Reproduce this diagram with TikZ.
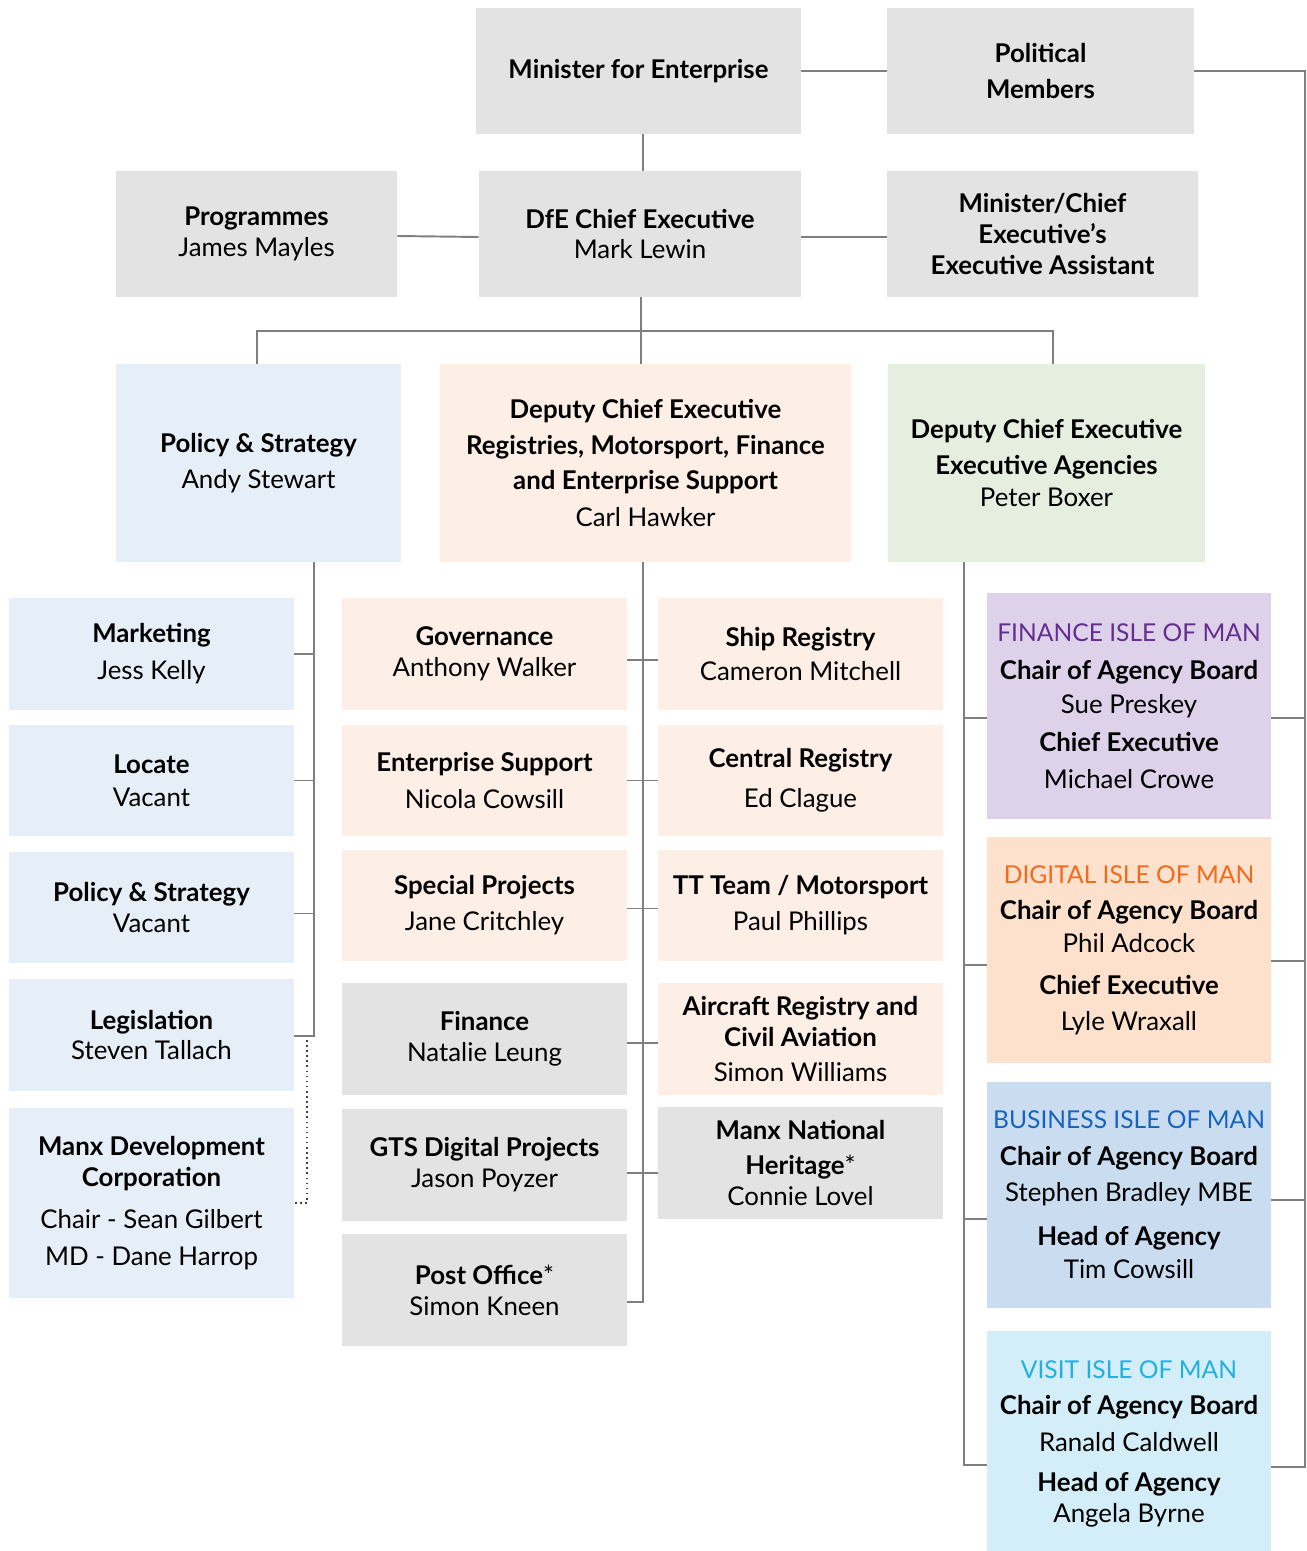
\documentclass[tikz,border=0pt]{standalone}
\usepackage{fontspec}
\setmainfont{Lato}
\usetikzlibrary{calc}
\definecolor{lineg}{HTML}{7F7F7F}
\definecolor{grayf}{HTML}{E3E3E3}
\definecolor{bluef}{HTML}{E6EEF8}
\definecolor{peachf}{HTML}{FDEFE6}
\definecolor{greenf}{HTML}{E6EEE0}
\definecolor{lavf}{HTML}{DDD2EA}
\definecolor{digf}{HTML}{FDE1CC}
\definecolor{busf}{HTML}{C9DCF0}
\definecolor{visf}{HTML}{D3EEF8}
\definecolor{fimc}{HTML}{662D91}
\definecolor{dimc}{HTML}{F26B1D}
\definecolor{bimc}{HTML}{1565C0}
\definecolor{vimc}{HTML}{22B0E0}
\newcommand{\agtitle}[2]{{\fontsize{14}{17.6}\selectfont\color{#1}#2}}
\begin{document}
\begin{tikzpicture}[x=0.02cm,y=-0.02cm,
  box/.style={rectangle, draw=none, inner sep=0pt, align=center,
    font=\fontsize{14.7}{17.6}\selectfont},
  sz/.style 2 args={minimum width=#1*0.02cm, minimum height=#2*0.02cm},
  conn/.style={draw=lineg, line width=1.1pt},
  dotconn/.style={draw=black!75, line width=0.9pt, dotted}]
\useasboundingbox (0,0) rectangle (1306,1551);

% top rows
\node[box, fill=grayf, sz={325}{126}] (Minister) at (638.5,71) {\textbf{Minister for Enterprise}};
\node[box, fill=grayf, sz={307}{126}] (Political) at (1040.5,71) {\textbf{Political}\\[2.8pt]\textbf{Members}};
\node[box, fill=grayf, sz={281}{126}] (Programmes) at (256.5,234) {\textbf{Programmes}\\James Mayles};
\node[box, fill=grayf, sz={322}{126}] (DfE) at (640,234) {\textbf{DfE Chief Executive}\\Mark Lewin};
\node[box, fill=grayf, sz={311}{126}] (EA) at (1042.5,234) {\textbf{Minister/Chief}\\\textbf{Executive's}\\\textbf{Executive Assistant}};

% deputies
\node[box, fill=bluef, sz={285}{198}] (PS) at (258.5,463) {\textbf{Policy \& Strategy}\\[2.8pt]Andy Stewart};
\node[box, fill=peachf, sz={411}{198}] (DCEa) at (645.5,463) {\textbf{Deputy Chief Executive}\\[2.8pt]\textbf{Registries, Motorsport, Finance}\\[2.8pt]\textbf{and Enterprise Support}\\[3.4pt]Carl Hawker};
\node[box, fill=greenf, sz={317}{198}] (DCEb) at (1046.5,463) {\textbf{Deputy Chief Executive}\\[2.8pt]\textbf{Executive Agencies}\\[1pt]Peter Boxer};

% left column
\node[box, fill=bluef, sz={285}{112}] (Marketing) at (151.5,654) {\textbf{Marketing}\\[3.4pt]Jess Kelly};
\node[box, fill=bluef, sz={285}{111}] (Locate) at (151.5,780.5) {\textbf{Locate}\\[1pt]Vacant};
\node[box, fill=bluef, sz={285}{111}] (PSV) at (151.5,907.5) {\textbf{Policy \& Strategy}\\Vacant};
\node[box, fill=bluef, sz={285}{112}] (Legislation) at (151.5,1035) {\textbf{Legislation}\\Steven Tallach};
\node[box, fill=bluef, sz={285}{190}] (MDC) at (151.5,1203) {\textbf{Manx Development}\\\textbf{Corporation}\\[6pt]Chair - Sean Gilbert\\[3.4pt]MD - Dane Harrop};

% middle column 1
\node[box, fill=peachf, sz={285}{112}] (Governance) at (484.5,654) {\textbf{Governance}\\Anthony Walker};
\node[box, fill=peachf, sz={285}{111}] (EntSupport) at (484.5,780.5) {\textbf{Enterprise Support}\\[4pt]Nicola Cowsill};
\node[box, fill=peachf, sz={285}{111}] (Special) at (484.5,905.5) {\textbf{Special Projects}\\[2.8pt]Jane Critchley};
\node[box, fill=grayf, sz={285}{112}] (Finance) at (484.5,1039) {\textbf{Finance}\\Natalie Leung};
\node[box, fill=grayf, sz={285}{112}] (GTS) at (484.5,1165) {\textbf{GTS Digital Projects}\\Jason Poyzer};
\node[box, fill=grayf, sz={285}{112}] (PostOffice) at (484.5,1290) {\textbf{Post Office}*\\Simon Kneen};

% middle column 2
\node[box, fill=peachf, sz={285}{112}] (Ship) at (800.5,654) {\textbf{Ship Registry}\\[2pt]Cameron Mitchell};
\node[box, fill=peachf, sz={285}{111}] (Central) at (800.5,780.5) {\textbf{Central Registry}\\[5pt]Ed Clague};
\node[box, fill=peachf, sz={285}{111}] (TT) at (800.5,905.5) {\textbf{TT Team / Motorsport}\\[2.8pt]Paul Phillips};
\node[box, fill=peachf, sz={285}{112}] (Aircraft) at (800.5,1039) {\textbf{Aircraft Registry and}\\\textbf{Civil Aviation}\\[2.8pt]Simon Williams};
\node[box, fill=grayf, sz={285}{112}] (MNH) at (800.5,1163) {\textbf{Manx National}\\[2.8pt]\textbf{Heritage}*\\Connie Lovel};

% agencies
\node[box, fill=lavf, sz={284}{226}] (FIoM) at (1129,706) {\agtitle{fimc}{FINANCE ISLE OF MAN}\\[4pt]\textbf{Chair of Agency Board}\\[2pt]Sue Preskey\\[4pt]\textbf{Chief Executive}\\[3pt]Michael Crowe};
\node[box, fill=digf, sz={284}{226}] (DIoM) at (1129,950) {\agtitle{dimc}{DIGITAL ISLE OF MAN}\\[3pt]\textbf{Chair of Agency Board}\\[1.5pt]Phil Adcock\\[6pt]\textbf{Chief Executive}\\[2.8pt]Lyle Wraxall};
\node[box, fill=busf, sz={284}{226}] (BIoM) at (1129,1195) {\agtitle{bimc}{BUSINESS ISLE OF MAN}\\[3pt]\textbf{Chair of Agency Board}\\[2.8pt]Stephen Bradley MBE\\[8pt]\textbf{Head of Agency}\\[1pt]Tim Cowsill};
\node[box, fill=visf, sz={284}{220}] (VIoM) at (1129,1441) {\\[-4pt]\agtitle{vimc}{VISIT ISLE OF MAN}\\[3pt]\textbf{Chair of Agency Board}\\[3.4pt]Ranald Caldwell\\[5.5pt]\textbf{Head of Agency}\\Angela Byrne};

% helper coordinates
\coordinate (x643) at (643,0);
\coordinate (x641) at (641,0);
\coordinate (busL) at (257,331);
\coordinate (busR) at (1053,331);
\coordinate (ls) at (314,0);
\coordinate (ms) at (643,0);
\coordinate (rs) at (964,0);
\coordinate (fs) at (1305,0);
\coordinate (dotTop) at (307,1040);

% connectors top
\draw[conn] (Minister.east) -- (Political.west);
\draw[conn] (Minister.south -| x643) -- (DfE.north -| x643);
\draw[conn] ($(Programmes.east)+(0,2)$) -- ($(DfE.west)+(0,3)$);
\draw[conn] ($(DfE.east)+(0,3)$) -- ($(EA.west)+(0,3)$);
\draw[conn] (DfE.south -| x641) -- (DCEa.north -| x641);
\draw[conn] (PS.north -| busL) -- (busL) -- (busR) -- (DCEb.north -| busR);

% left spine
\draw[conn] (PS.south -| ls) -- ($(Legislation.east -| ls)+(0,1)$) -- ($(Legislation.east)+(0,1)$);
\draw[conn] (Marketing.east) -- (Marketing.east -| ls);
\draw[conn] (Locate.east) -- (Locate.east -| ls);
\draw[conn] ($(PSV.east)+(0,6)$) -- ($(PSV.east -| ls)+(0,6)$);
\draw[dotconn] (dotTop) |- (MDC.east);

% middle spine
\draw[conn] (DCEa.south -| ms) -- ($(PostOffice.east -| ms)+(0,12)$) -- ($(PostOffice.east)+(0,12)$);
\draw[conn] ($(Governance.east)+(0,6)$) -- ($(Ship.west)+(0,6)$);
\draw[conn] (EntSupport.east) -- (Central.west);
\draw[conn] ($(Special.east)+(0,3)$) -- ($(TT.west)+(0,3)$);
\draw[conn] ($(Finance.east)+(0,4)$) -- ($(Aircraft.west)+(0,4)$);
\draw[conn] ($(GTS.east)+(0,8)$) -- ($(GTS.east -| MNH.west)+(0,8)$);

% agencies left spine
\draw[conn] (DCEb.south -| rs) -- ($(VIoM.west -| rs)+(0,24)$) -- ($(VIoM.west)+(0,24)$);
\draw[conn] ($(FIoM.west -| rs)+(0,12)$) -- ($(FIoM.west)+(0,12)$);
\draw[conn] ($(DIoM.west -| rs)+(0,15)$) -- ($(DIoM.west)+(0,15)$);
\draw[conn] ($(BIoM.west -| rs)+(0,24)$) -- ($(BIoM.west)+(0,24)$);

% political members spine
\draw[conn] (Political.east) -- (Political.east -| fs) -- ($(VIoM.east -| fs)+(0,26)$) -- ($(VIoM.east)+(0,26)$);
\draw[conn] ($(FIoM.east)+(0,12)$) -- ($(FIoM.east -| fs)+(0,12)$);
\draw[conn] ($(DIoM.east)+(0,11)$) -- ($(DIoM.east -| fs)+(0,11)$);
\draw[conn] ($(BIoM.east)+(0,5)$) -- ($(BIoM.east -| fs)+(0,5)$);
\end{tikzpicture}
\end{document}
